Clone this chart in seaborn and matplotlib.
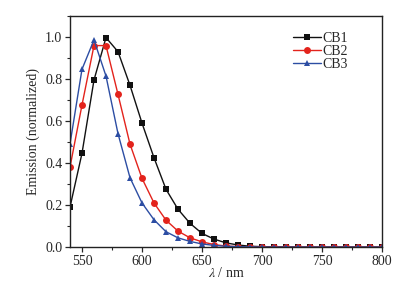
import numpy as np
import pandas as pd
import matplotlib
matplotlib.use('Agg')
import matplotlib.pyplot as plt
from matplotlib.ticker import MultipleLocator
import seaborn as sns

# wavelength (nm) and normalized emission
wl = list(range(540, 810, 10))
cb1 = [0.19, 0.446, 0.795, 0.997, 0.93, 0.77, 0.59, 0.425, 0.275, 0.18, 0.113, 0.065,
       0.038, 0.02, 0.01, 0.004, 0.002, 0.001, 0.001, 0.0, 0.0, 0.0, 0.0, 0.0, 0.0, 0.0, 0.0]
cb2 = [0.38, 0.676, 0.959, 0.959, 0.727, 0.49, 0.327, 0.21, 0.128, 0.076, 0.044, 0.025,
       0.012, 0.005, 0.002, 0.001, 0.0, 0.0, 0.0, 0.0, 0.0, 0.0, 0.0, 0.0, 0.0, 0.0, 0.0]
cb3 = [0.49, 0.846, 0.986, 0.814, 0.54, 0.33, 0.21, 0.13, 0.073, 0.044, 0.027, 0.015,
       0.008, 0.004, 0.002, 0.001, 0.0, 0.0, 0.0, 0.0, 0.0, 0.0, 0.0, 0.0, 0.0, 0.0, 0.0]
names = ['CB1', 'CB2', 'CB3']

df = pd.DataFrame({'wl': wl * 3,
                   'em': cb1 + cb2 + cb3,
                   'sample': [n for n in names for _ in wl]})

sns.set_style('ticks')
plt.rcParams['font.family'] = ['Liberation Serif', 'DejaVu Serif']
plt.rcParams['mathtext.fontset'] = 'stix'

fig = plt.figure(figsize=(4.19, 2.85), dpi=100)
ax = fig.add_axes([0.167, 0.133, 0.745, 0.811])

sns.lineplot(data=df, x='wl', y='em', hue='sample', style='sample',
             palette={'CB1': '#111111', 'CB2': '#e3231c', 'CB3': '#2c4da3'},
             markers={'CB1': 's', 'CB2': 'o', 'CB3': '^'}, dashes=False,
             markersize=5, markeredgewidth=0, linewidth=1.0, ax=ax)

ax.set_xlim(540, 800)
ax.set_ylim(0, 1.1)
ax.xaxis.set_major_locator(MultipleLocator(50))
ax.xaxis.set_minor_locator(MultipleLocator(25))
ax.yaxis.set_major_locator(MultipleLocator(0.2))
ax.yaxis.set_minor_locator(MultipleLocator(0.1))
ax.yaxis.set_major_formatter(plt.FuncFormatter(lambda v, p: f'{v:.1f}'))
ax.tick_params(which='major', direction='out', length=3.5, width=0.9, labelsize=10, pad=2)
ax.tick_params(which='minor', direction='out', length=2, width=0.8)
for s in ax.spines.values():
    s.set_visible(True)
    s.set_linewidth(1.0)
    s.set_color('#222222')

ax.set_xlabel(r'$\lambda$ / nm', fontsize=10, labelpad=-1)
ax.set_ylabel('Emission (normalized)', fontsize=10, labelpad=4)

leg = ax.legend(loc='upper right', frameon=False, fontsize=10, handlelength=2.0,
                handletextpad=0.1, labelspacing=0.0, bbox_to_anchor=(0.93, 0.985))
leg.set_title(None)

fig.savefig('out.png', dpi=100)
